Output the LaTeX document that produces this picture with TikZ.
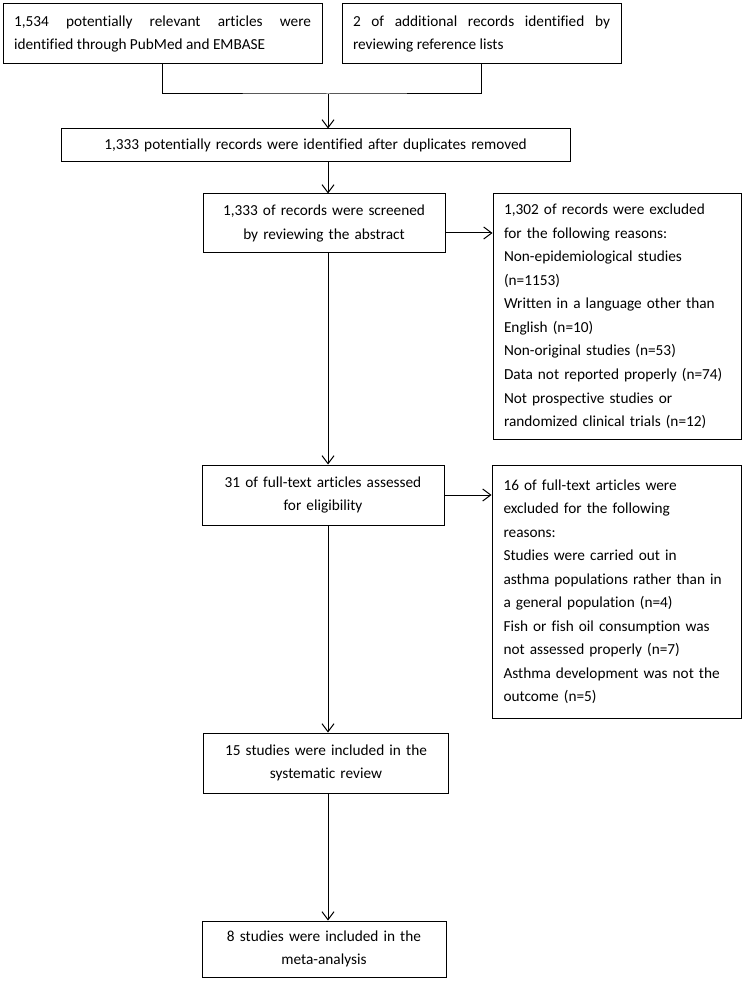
\documentclass[tikz,border=0pt]{standalone}
\usepackage{fontspec}
\setmainfont{Carlito}[Ligatures=NoCommon]
\usetikzlibrary{arrows.meta}
\begin{document}
\begin{tikzpicture}[x=1pt,y=-1pt]

  \tikzset{
    box/.style={
      rectangle,
      draw=black,
      line width=1pt,
      inner sep=0pt,
      font=\fontsize{15.3}{23.5}\selectfont
    },
    arr/.style={
      black,
      line width=1pt,
      -{Straight Barb[length=8pt,width=12pt]}
    }
  }

  \useasboundingbox (0,0) rectangle (745,981);

  \node[box, minimum width=319pt, minimum height=60pt, text width=297pt, align=justify] (search) at (162.5, 34) {1,534 potentially relevant articles were\linebreak identified through PubMed and EMBASE};
  \node[box, minimum width=279pt, minimum height=60pt, text width=257pt, align=justify] (extra) at (481.5, 34) {2 of additional records identified by\linebreak reviewing reference lists};
  \node[box, minimum width=509pt, minimum height=33pt, text width=490pt, align=center] (dedup) at (315.5, 145.5) {1,333 potentially records were identified after duplicates removed};
  \node[box, minimum width=242pt, minimum height=59pt, text width=230pt, align=center] (screen) at (324, 223.5) {1,333 of records were screened\\by reviewing the abstract};
  \node[box, minimum width=248pt, minimum height=245pt, text width=226pt, align=left] (excl1) at (617, 316.5) {1,302 of records were excluded\\for the following reasons:\\Non-epidemiological studies\\(n=1153)\\Written in a language other than\\English (n=10)\\Non-original studies (n=53)\\Data not reported properly (n=74)\\Not prospective studies or\\randomized clinical trials (n=12)};
  \node[box, minimum width=242pt, minimum height=60pt, text width=230pt, align=center] (full) at (323, 495) {31 of full-text articles assessed\\for eligibility};
  \node[box, minimum width=249pt, minimum height=253pt, text width=226pt, align=left] (excl2) at (616.5, 591.5) {16 of full-text articles were\\excluded for the following\\reasons:\\Studies were carried out in\\asthma populations rather than in\\a general population (n=4)\\Fish or fish oil consumption was\\not assessed properly (n=7)\\Asthma development was not the\\outcome (n=5)};
  \node[box, minimum width=245pt, minimum height=60pt, text width=230pt, align=center] (review) at (326, 763) {15 studies were included in the\\systematic review};
  \node[box, minimum width=244pt, minimum height=56pt, text width=230pt, align=center] (meta) at (324, 949) {8 studies were included in the\\meta-analysis};

  \coordinate (merge) at (328, 94);

  \draw[black, line width=1pt] (search.south) |- (merge) -| (extra.south);
  \draw[arr] (merge) -- (merge |- dedup.north);
  \draw[arr] (merge |- dedup.south) -- (merge |- screen.north);
  \draw[arr] ([yshift=-9.5pt]screen.east) -- ([yshift=-9.5pt]screen.east -| excl1.west);
  \draw[arr] (merge |- screen.south) -- (merge |- full.north);
  \draw[arr] (full.east) -- (full.east -| excl2.west);
  \draw[arr] (merge |- full.south) -- (merge |- review.north);
  \draw[arr] (merge |- review.south) -- (merge |- meta.north);

\end{tikzpicture}
\end{document}
